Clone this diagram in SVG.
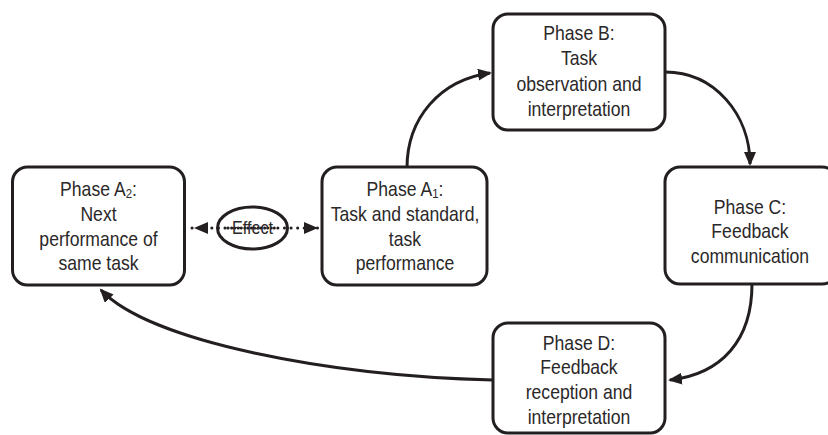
<svg xmlns="http://www.w3.org/2000/svg" width="828" height="435" viewBox="0 0 828 435">
<style>
.box{fill:#fff;stroke:#231f20;stroke-width:3}
.con{fill:none;stroke:#231f20;stroke-width:3}
.dot{fill:none;stroke:#231f20;stroke-width:3;stroke-dasharray:0.1 6.5;stroke-linecap:round}
.t{font-family:"Liberation Sans",Arial,sans-serif;font-size:20px;fill:#2b2829;text-anchor:middle}
.sub{font-size:13px}
.eff{font-family:"Liberation Sans",Arial,sans-serif;font-size:17.5px;fill:#2b2829;text-anchor:middle}
</style>
<defs>
<marker id="ah" markerUnits="userSpaceOnUse" markerWidth="15" markerHeight="13" refX="12" refY="6" orient="auto-start-reverse" viewBox="0 0 15 13">
<path d="M0,0 L14,6 L0,12 z" fill="#231f20"/>
</marker>
</defs>
<g id="connectors">
<path class="con" d="M407,168 C407,118 440,80 490,73" marker-end="url(#ah)"/>
<path class="con" d="M665,72 C715,72 750,115 750,164" marker-end="url(#ah)"/>
<path class="con" d="M752,284 C752,340 722,374 670,380" marker-end="url(#ah)"/>
<path class="con" d="M493,380 C330,376 150,342 101,290" marker-end="url(#ah)"/>
<path class="dot" d="M192,228 L318,228"/>
<path d="M196,228 L316,228" fill="none" stroke="none" marker-start="url(#ah)" marker-end="url(#ah)"/>
</g>
<g id="effect">
<ellipse cx="252.5" cy="228" rx="35" ry="21" fill="none" stroke="#231f20" stroke-width="3"/>
<path class="dot" d="M228,228 L278,228"/>
<text class="eff" transform="translate(252.5 0) scale(0.92 1)" x="0" y="234">Effect</text>
</g>
<g id="phaseA2">
<rect class="box" x="12.5" y="167" width="172" height="118" rx="15"/>
<text class="t" transform="translate(98.5 0) scale(0.88 1)"><tspan x="0" y="196">Phase A<tspan class="sub" dy="2">2</tspan><tspan dy="-2">:</tspan></tspan><tspan x="0" y="221">Next</tspan><tspan x="0" y="246">performance of</tspan><tspan x="0" y="270">same task</tspan></text>
</g>
<g id="phaseA1">
<rect class="box" x="322" y="167" width="165" height="118" rx="15"/>
<text class="t" transform="translate(405 0) scale(0.88 1)"><tspan x="0" y="196">Phase A<tspan class="sub" dy="2">1</tspan><tspan dy="-2">:</tspan></tspan><tspan x="0" y="221">Task and standard,</tspan><tspan x="0" y="246">task</tspan><tspan x="0" y="270">performance</tspan></text>
</g>
<g id="phaseB">
<rect class="box" x="493" y="14" width="172" height="116" rx="15"/>
<text class="t" transform="translate(579 0) scale(0.88 1)"><tspan x="0" y="40">Phase B:</tspan><tspan x="0" y="65">Task</tspan><tspan x="0" y="91">observation and</tspan><tspan x="0" y="116">interpretation</tspan></text>
</g>
<g id="phaseC">
<rect class="box" x="665" y="167" width="172" height="117" rx="15"/>
<text class="t" transform="translate(750 0) scale(0.88 1)"><tspan x="0" y="214">Phase C:</tspan><tspan x="0" y="238">Feedback</tspan><tspan x="0" y="263">communication</tspan></text>
</g>
<g id="phaseD">
<rect class="box" x="493" y="323" width="172" height="110" rx="15"/>
<text class="t" transform="translate(579 0) scale(0.88 1)"><tspan x="0" y="350">Phase D:</tspan><tspan x="0" y="374">Feedback</tspan><tspan x="0" y="399">reception and</tspan><tspan x="0" y="424">interpretation</tspan></text>
</g>
</svg>
